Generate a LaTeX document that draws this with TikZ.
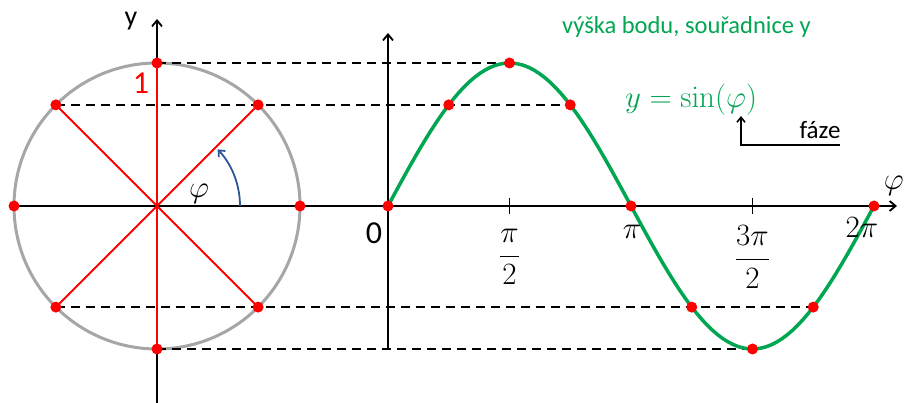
\documentclass[tikz,border=0pt]{standalone}
\usepackage{fix-cm}
\usepackage[no-math]{fontspec}
\setmainfont{Carlito}
\usepackage{xcolor}
\usepackage{tikz}
\usetikzlibrary{arrows.meta,positioning,backgrounds}
\definecolor{sinegreen}{HTML}{00A651}
\definecolor{rimgray}{HTML}{A6A6A6}
\definecolor{phaseblue}{HTML}{2F5597}
\definecolor{dotred}{HTML}{FF0000}
\tikzset{
  axisline/.style={line width=1.8pt,-{Straight Barb[length=6pt,width=10pt]}},
  tickline/.style={line width=1.8pt},
  rimline/.style={draw=rimgray,line width=3pt},
  redline/.style={draw=dotred,line width=2pt},
  dashline/.style={line width=1.6pt,dash pattern=on 9pt off 6pt},
  sinecurve/.style={draw=sinegreen,line width=3.5pt},
  dotnode/.style={circle,fill=dotred,inner sep=0pt,minimum size=11pt},
  bigmath/.style={inner sep=0pt,font=\fontsize{31}{34}\selectfont},
}

\begin{document}
\begin{tikzpicture}[x=1pt,y=1pt]
\useasboundingbox (0,0) rectangle (906,403);
\coordinate (O) at (157,197);
\foreach \k in {0,...,7}
  \coordinate (c\k) at ({157+143*cos(45*\k)},{197+143*sin(45*\k)});
\foreach \k in {0,...,8}
  \coordinate (s\k) at ({388+60.75*\k},{197+143*sin(45*\k)});
\coordinate (ybot) at (157,0);
\coordinate (ytop) at (157,384);
\coordinate (sbot) at (388,53);
\coordinate (stop) at (388,370);
\coordinate (xend) at (897,197);
\coordinate (arcfrom) at (240,197);
\coordinate (fazecorner) at (741,258);
\coordinate (fazeend) at (840,258);
\coordinate (fazetop) at (741,287);

\draw[rimline] (O) circle[radius=143];
\draw[axisline] (ybot) -- (ytop);
\draw[axisline] (sbot) -- (stop);
\draw[axisline] (c4) -- (xend);
\draw[tickline] ([yshift=8pt]s2|-O) -- ([yshift=-8pt]s2|-O);
\draw[tickline] ([yshift=8pt]s6|-O) -- ([yshift=-8pt]s6|-O);

\draw[redline] (c1) -- (c5);
\draw[redline] (c3) -- (c7);
\draw[redline] (c2) -- (c6);

\draw[dashline] (c2) -- (s2);
\draw[dashline] (c3) -- (s3);
\draw[dashline] (c5) -- (s7);
\draw[dashline] (c6) -- (s6);

\draw[sinecurve] plot[domain=0:360,samples=91] ({388+1.35*\x},{197+143*sin(\x)});

\draw[phaseblue,line width=1.8pt,-{Straight Barb[length=5pt,width=9pt]}]
  (arcfrom) arc[start angle=0,end angle=43,radius=83];

\foreach \k in {0,...,7} \node[dotnode] (cd\k) at (c\k) {};
\foreach \k in {0,...,8} \node[dotnode] (sd\k) at (s\k) {};

\draw[line width=1.6pt,-{Straight Barb[length=5pt,width=8pt]}] (fazeend) -- (fazecorner) -- (fazetop);

\node[font=\fontsize{28}{30}\selectfont] (ylab) at (131,382) {y};
\node[text=dotred,font=\fontsize{32}{34}\selectfont] (onelab) at (141,320) {1};
\node[bigmath] (philab) at (199,209) {$\varphi$};
\node[font=\fontsize{32}{34}\selectfont] (zerolab) at (374,170) {0};
\node[bigmath] (halfpi) at (509.5,146) {$\displaystyle\frac{\pi}{2}$};
\node[bigmath] (pilab) at (632,171) {$\pi$};
\node[bigmath] (threehalfpi) at (752.5,146) {$\displaystyle\frac{3\pi}{2}$};
\node[bigmath] (twopilab) at (862,175) {$2\pi$};
\node[bigmath,anchor=east] (axisphi) at (904,217) {$\varphi$};
\node[text=sinegreen,anchor=west,inner sep=0pt,font=\fontsize{24.5}{27}\selectfont] (heightlab) at (562,376) {výška bodu, souřadnice y};
\node[text=sinegreen,inner sep=0pt,font=\fontsize{31}{34}\selectfont] (sinelab) at (691,303) {$y=\sin(\varphi)$};
\node[font=\fontsize{25}{27}\selectfont] (fazelab) at (820,273) {fáze};
\end{tikzpicture}
\end{document}
